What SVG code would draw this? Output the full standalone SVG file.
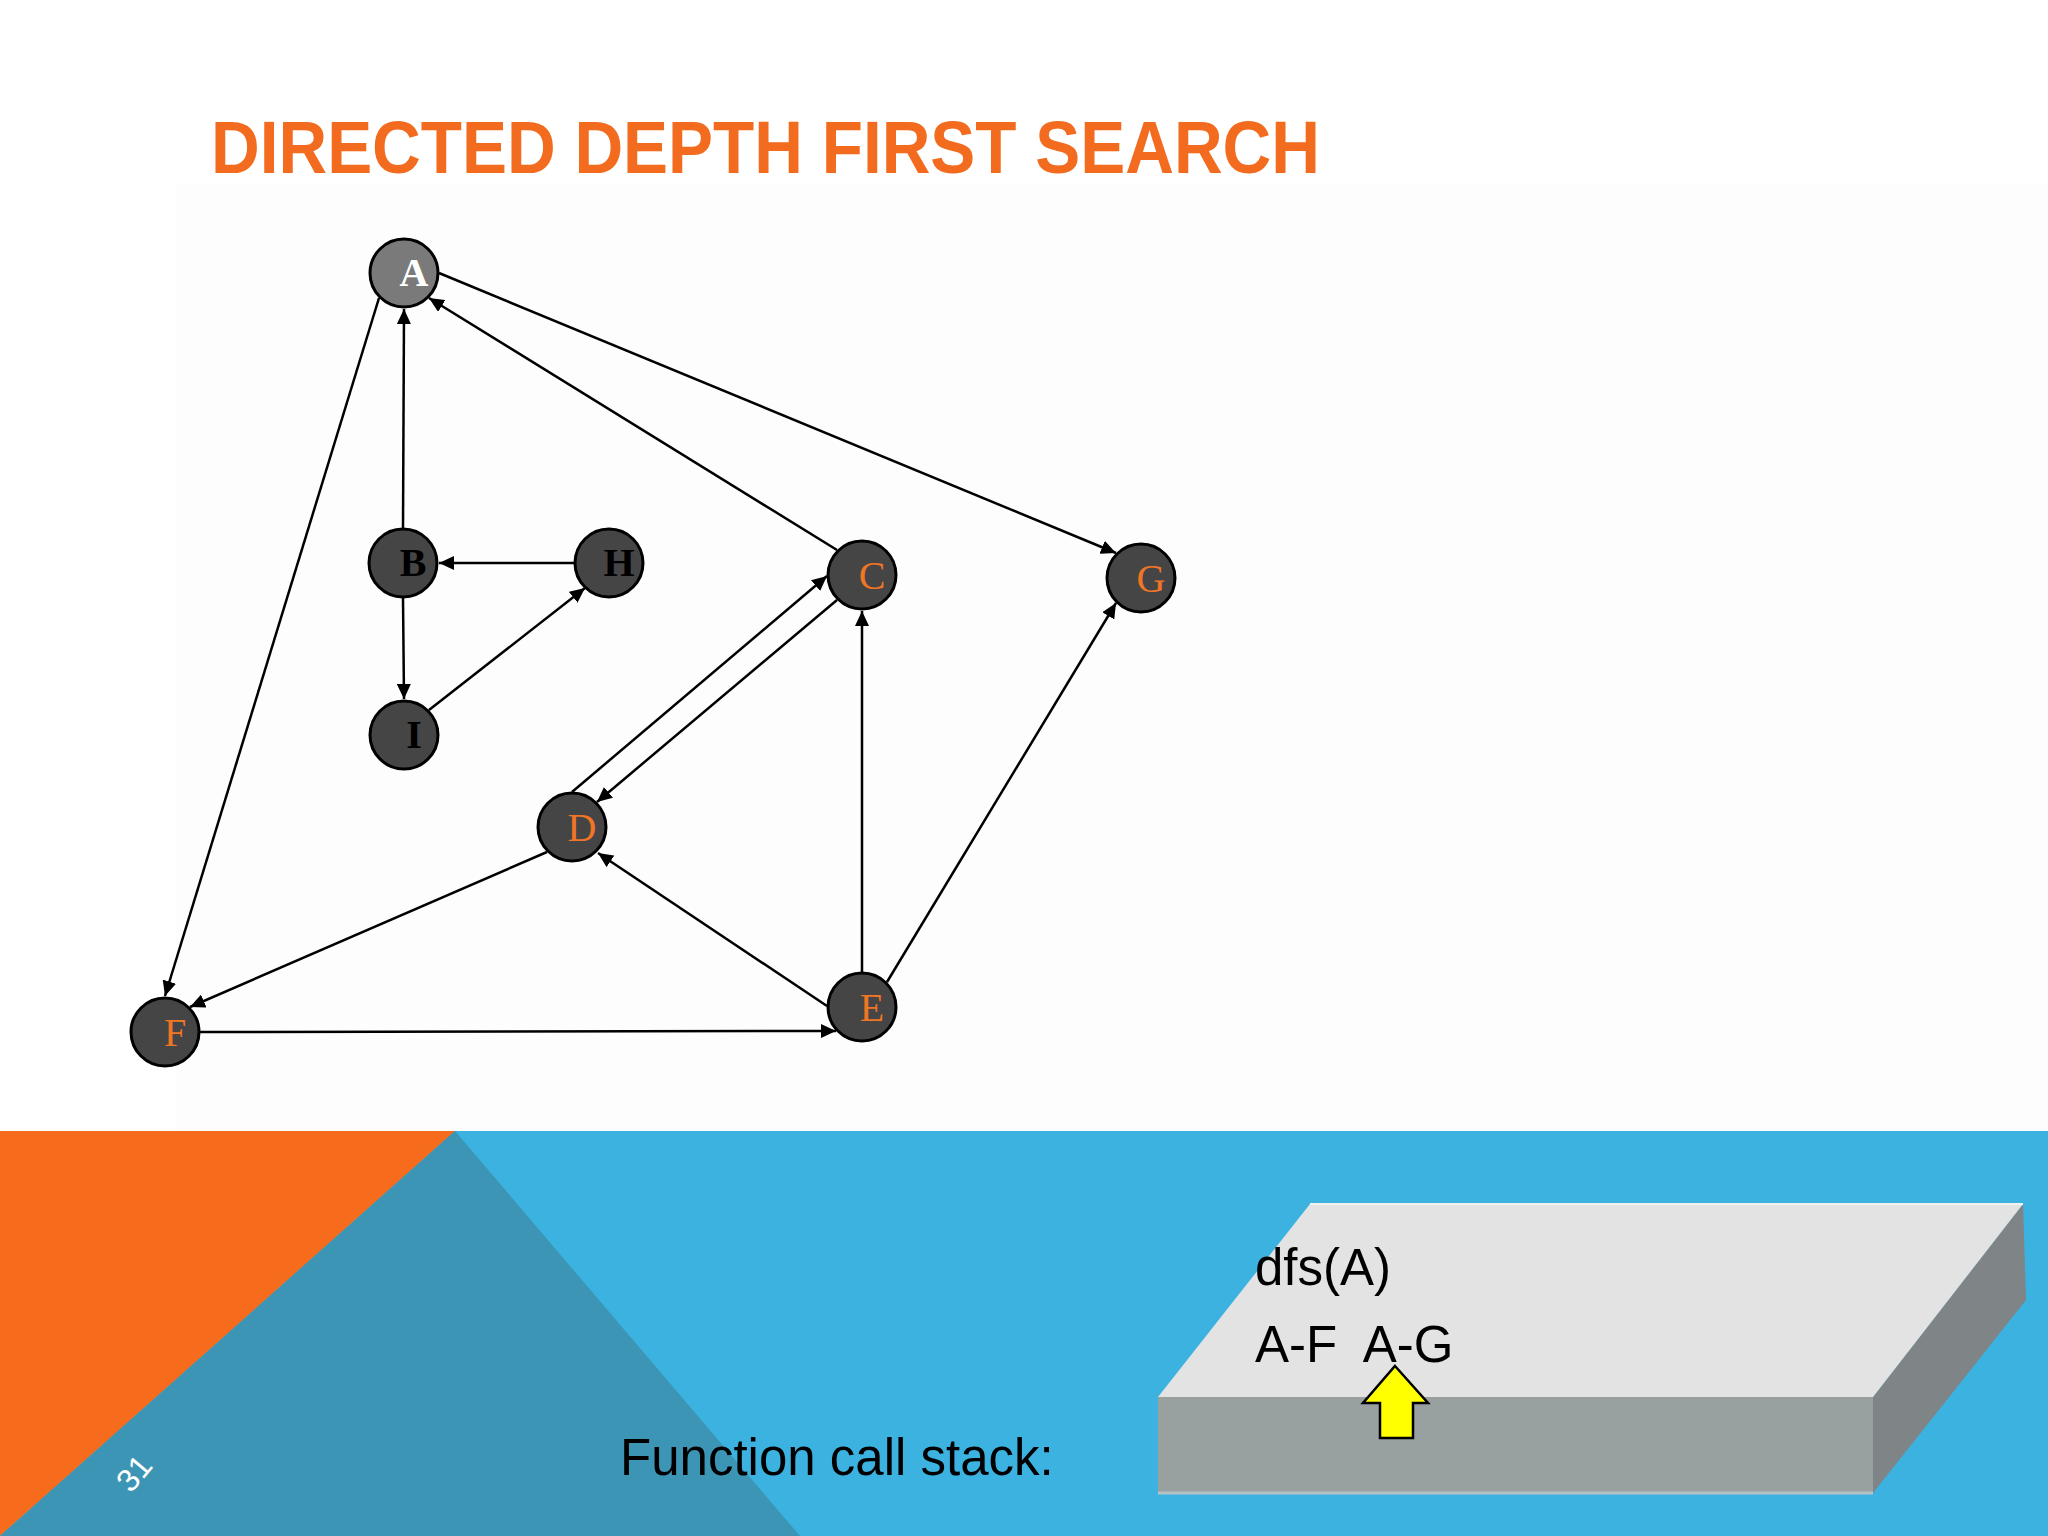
<svg xmlns="http://www.w3.org/2000/svg" width="2048" height="1536" viewBox="0 0 2048 1536">
<style>
.nd{fill:#454545;stroke:#000;stroke-width:3}
.nA{fill:#7a7a7a;stroke:#000;stroke-width:3}
.lb{font-family:"Liberation Serif","Times New Roman",serif;font-weight:bold;font-size:40px;text-anchor:middle;fill:#000}
.lo{font-family:"Liberation Serif","Times New Roman",serif;font-size:40px;text-anchor:middle;fill:#f07524}
.ed{stroke:#000;stroke-width:2.5;fill:none;marker-end:url(#ah)}
.tx{font-family:"Liberation Sans",Arial,sans-serif;font-size:51px;fill:#000}
</style>
<defs>
<marker id="ah" viewBox="0 0 15 14" refX="15" refY="7" markerWidth="15" markerHeight="14" markerUnits="userSpaceOnUse" orient="auto">
<path d="M0,0 L15,7 L0,14 z" fill="#000"/>
</marker>
</defs>
<rect width="2048" height="1536" fill="#ffffff"/>
<rect x="176" y="183" width="1872" height="948" fill="#fdfdfd"/>
<text x="211" y="173" font-family="Liberation Sans, Arial, sans-serif" font-weight="bold" font-size="75" fill="#f26b1f" textLength="1109" lengthAdjust="spacingAndGlyphs">DIRECTED DEPTH FIRST SEARCH</text>

<g id="connectors">
<line class="ed" x1="379" y1="298" x2="165" y2="996"/>
<line class="ed" x1="403" y1="528" x2="404" y2="309"/>
<line class="ed" x1="575" y1="563" x2="439" y2="563"/>
<line class="ed" x1="403" y1="598" x2="404" y2="699"/>
<line class="ed" x1="429" y1="710" x2="585" y2="588"/>
<line class="ed" x1="837" y1="550" x2="429" y2="298"/>
<line class="ed" x1="439" y1="273" x2="1116" y2="553"/>
<line class="ed" x1="572" y1="792" x2="827" y2="576"/>
<line class="ed" x1="837" y1="600" x2="597" y2="802"/>
<line class="ed" x1="547" y1="852" x2="190" y2="1007"/>
<line class="ed" x1="827" y1="1006" x2="598" y2="853"/>
<line class="ed" x1="862" y1="972" x2="862" y2="611"/>
<line class="ed" x1="887" y1="982" x2="1116" y2="603"/>
<line class="ed" x1="200" y1="1032" x2="836" y2="1031"/>
</g>

<g id="node-A"><circle class="nA" cx="404" cy="273" r="34"/><text class="lb" x="414" y="286" style="fill:#fff">A</text></g>
<g id="node-B"><circle class="nd" cx="403" cy="563" r="34"/><text class="lb" x="413" y="576">B</text></g>
<g id="node-H"><circle class="nd" cx="609" cy="563" r="34"/><text class="lb" x="619" y="576">H</text></g>
<g id="node-I"><circle class="nd" cx="404" cy="735" r="34"/><text class="lb" x="414" y="748">I</text></g>
<g id="node-C"><circle class="nd" cx="862" cy="575" r="34"/><text class="lo" x="872" y="589">C</text></g>
<g id="node-G"><circle class="nd" cx="1141" cy="578" r="34"/><text class="lo" x="1151" y="592">G</text></g>
<g id="node-D"><circle class="nd" cx="572" cy="827" r="34"/><text class="lo" x="582" y="841">D</text></g>
<g id="node-F"><circle class="nd" cx="165" cy="1032" r="34"/><text class="lo" x="175" y="1046">F</text></g>
<g id="node-E"><circle class="nd" cx="862" cy="1007" r="34"/><text class="lo" x="872" y="1021">E</text></g>

<g id="footer">
<rect x="0" y="1131" width="2048" height="405" fill="#3bb2e0"/>
<polygon points="0,1131 455,1131 0,1536" fill="#f76b1c"/>
<polygon points="455,1131 800,1536 0,1536" fill="#3d95b5"/>
<text x="0" y="0" transform="translate(131,1494) rotate(-50)" font-family="Liberation Sans, Arial, sans-serif" font-size="32" fill="#fff">31</text>
<text class="tx" x="620" y="1475">Function call stack:</text>
</g>

<g id="stack">
<polygon points="1873,1397 2023,1204 2026,1300 1873,1493" fill="#7f8486"/>
<polygon points="1158,1397 1873,1397 1873,1493 1158,1493" fill="#98a0a0"/>
<polygon points="1310,1204 2023,1204 1873,1397 1158,1397" fill="#e3e3e3"/>
<line x1="1310" y1="1204" x2="2023" y2="1204" stroke="#f2f2f2" stroke-width="2"/>
<line x1="1158" y1="1493" x2="1873" y2="1493" stroke="#b5c2c4" stroke-width="3"/>
<text class="tx" x="1255" y="1285">dfs(A)</text>
<text class="tx" x="1255" y="1362" xml:space="preserve">A-F  A-G</text>
<polygon points="1395,1366 1428,1403 1413,1403 1413,1438 1380,1438 1380,1403 1363,1403" fill="#ffff00" stroke="#000" stroke-width="2.5"/>
</g>
</svg>
